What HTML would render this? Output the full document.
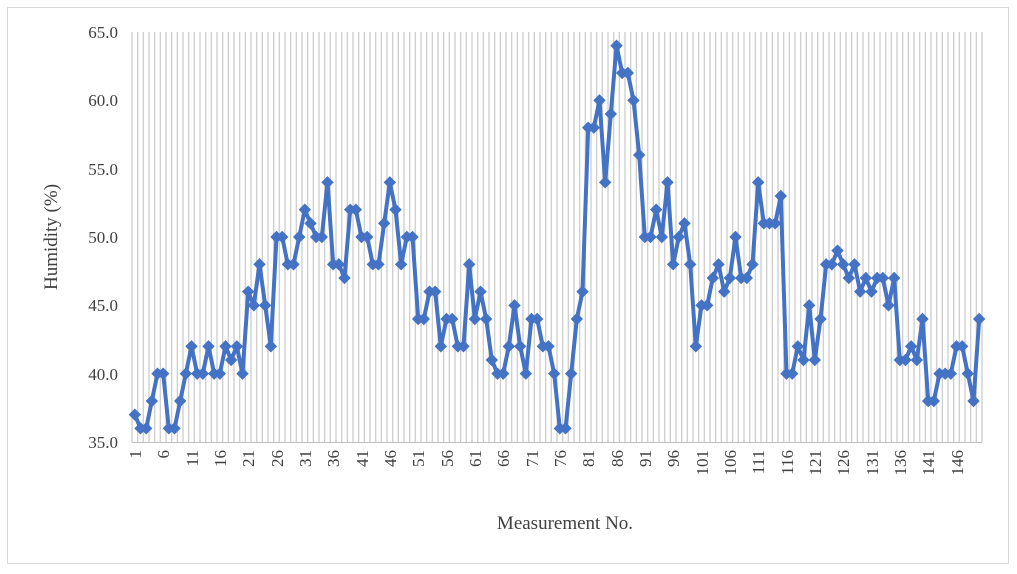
<!DOCTYPE html>
<html><head><meta charset="utf-8"><style>
body{margin:0;background:#fff;}
svg{display:block;font-family:"Liberation Serif",serif;}
</style></head><body>
<svg id="c" width="1017" height="574" viewBox="0 0 1017 574" xmlns="http://www.w3.org/2000/svg">
<rect x="7.5" y="7.5" width="1001" height="556" fill="#fff" stroke="#d9d9d9"/>
<g id="grid" stroke="#d0d0d0" stroke-width="1.4"></g>
<line x1="132" y1="442.5" x2="982" y2="442.5" stroke="#bfbfbf" stroke-width="1"/>
<g font-size="17" fill="#404040" text-anchor="end">
<text x="118" y="38">65.0</text>
<text x="118" y="106">60.0</text>
<text x="118" y="175">55.0</text>
<text x="118" y="243">50.0</text>
<text x="118" y="311">45.0</text>
<text x="118" y="380">40.0</text>
<text x="118" y="448">35.0</text>
</g>
<g font-size="17" fill="#404040" text-anchor="end">
<text transform="translate(141,450) rotate(-90)">1</text>
<text transform="translate(169,450) rotate(-90)">6</text>
<text transform="translate(198,450) rotate(-90)">11</text>
<text transform="translate(226,450) rotate(-90)">16</text>
<text transform="translate(254,450) rotate(-90)">21</text>
<text transform="translate(283,450) rotate(-90)">26</text>
<text transform="translate(311,450) rotate(-90)">31</text>
<text transform="translate(339,450) rotate(-90)">36</text>
<text transform="translate(368,450) rotate(-90)">41</text>
<text transform="translate(396,450) rotate(-90)">46</text>
<text transform="translate(424,450) rotate(-90)">51</text>
<text transform="translate(453,450) rotate(-90)">56</text>
<text transform="translate(481,450) rotate(-90)">61</text>
<text transform="translate(509,450) rotate(-90)">66</text>
<text transform="translate(538,450) rotate(-90)">71</text>
<text transform="translate(566,450) rotate(-90)">76</text>
<text transform="translate(594,450) rotate(-90)">81</text>
<text transform="translate(623,450) rotate(-90)">86</text>
<text transform="translate(651,450) rotate(-90)">91</text>
<text transform="translate(679,450) rotate(-90)">96</text>
<text transform="translate(708,450) rotate(-90)">101</text>
<text transform="translate(736,450) rotate(-90)">106</text>
<text transform="translate(764,450) rotate(-90)">111</text>
<text transform="translate(793,450) rotate(-90)">116</text>
<text transform="translate(821,450) rotate(-90)">121</text>
<text transform="translate(849,450) rotate(-90)">126</text>
<text transform="translate(878,450) rotate(-90)">131</text>
<text transform="translate(906,450) rotate(-90)">136</text>
<text transform="translate(934,450) rotate(-90)">141</text>
<text transform="translate(963,450) rotate(-90)">146</text>
</g>
<text x="565" y="529" font-size="19" fill="#404040" text-anchor="middle">Measurement No.</text>
<text transform="translate(57,237) rotate(-90)" font-size="19" fill="#404040" text-anchor="middle">Humidity (%)</text>
<polyline id="line" fill="none" stroke="#4472c4" stroke-width="4" stroke-linejoin="round"/>
<g id="mk" fill="#4472c4"></g>
</svg>
<script>
var d=[37,36,36,38,40,40,36,36,38,40,42,40,40,42,40,40,42,41,42,40,46,45,48,45,42,50,50,48,48,50,52,51,50,50,54,48,48,47,52,52,50,50,48,48,51,54,52,48,50,50,44,44,46,46,42,44,44,42,42,48,44,46,44,41,40,40,42,45,42,40,44,44,42,42,40,36,36,40,44,46,58,58,60,54,59,64,62,62,60,56,50,50,52,50,54,48,50,51,48,42,45,45,47,48,46,47,50,47,47,48,54,51,51,51,53,40,40,42,41,45,41,44,48,48,49,48,47,48,46,47,46,47,47,45,47,41,41,42,41,44,38,38,40,40,40,42,42,40,38,44];
var x0=132,w=850/150,ns="http://www.w3.org/2000/svg";
var g=document.getElementById('grid'),mk=document.getElementById('mk'),pts=[];
for(var i=0;i<=150;i++){var l=document.createElementNS(ns,'line');var x=x0+i*w;l.setAttribute('x1',x);l.setAttribute('x2',x);l.setAttribute('y1',32);l.setAttribute('y2',442);g.appendChild(l);}
d.forEach(function(v,i){var x=x0+(i+0.5)*w,y=442-(v-35)*410/30;pts.push(x.toFixed(1)+','+y.toFixed(1));
var r=6.2;var p=document.createElementNS(ns,'polygon');p.setAttribute('points',(x)+','+(y-r)+' '+(x+r)+','+y+' '+x+','+(y+r)+' '+(x-r)+','+y);mk.appendChild(p);});
document.getElementById('line').setAttribute('points',pts.join(' '));
</script>
</body></html>
